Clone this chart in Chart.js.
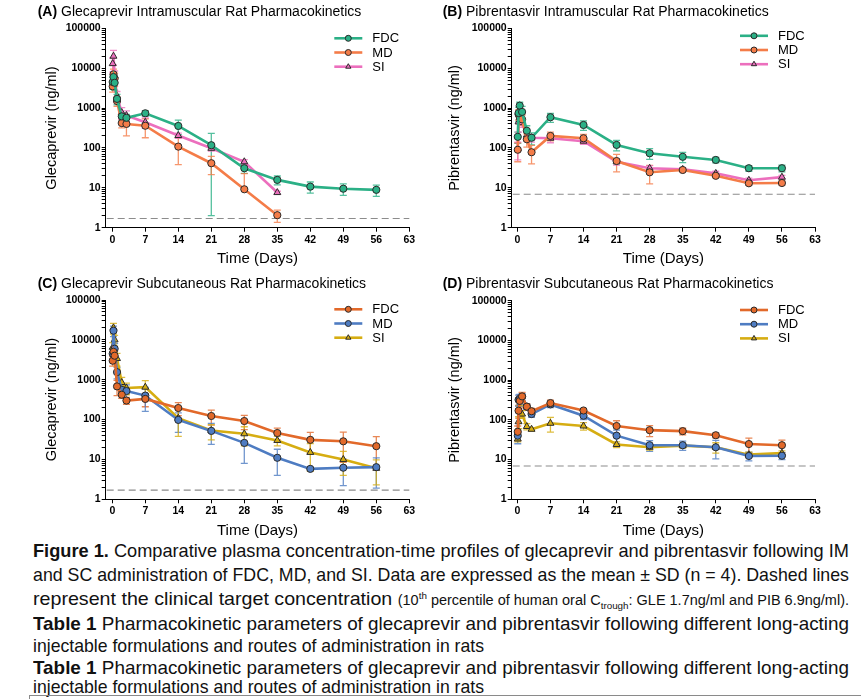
<!DOCTYPE html>
<html>
<head>
<meta charset="utf-8">
<script src="https://cdn.jsdelivr.net/npm/chart.js@4.4.1/dist/chart.umd.min.js"></script>
<style>
  body { margin: 0; background: #fff; width: 861px; height: 699px; overflow: hidden; position: relative; }
  canvas { position: absolute; }
  .cap { position: absolute; left: 33px; white-space: nowrap; line-height: 1;
         font-family: "Liberation Sans Narrow", "Arial Narrow", "Liberation Sans", Arial, sans-serif;
         font-size: 19px; color: #111; transform-origin: 0 0; }
  .cap small { font-size: 14px; }
  .cap sup, .cap sub { font-size: 9.5px; line-height: 0; }
  #tbl { position: absolute; left: 29px; top: 695px; width: 840px; height: 10px;
         border-top: 1px solid #8a8a8a; border-left: 1px solid #8a8a8a; }
</style>
</head>
<body>
<canvas id="cA" width="430" height="270" style="left:0;top:0"></canvas>
<canvas id="cB" width="431" height="270" style="left:430px;top:0"></canvas>
<canvas id="cC" width="430" height="270" style="left:0;top:270px"></canvas>
<canvas id="cD" width="431" height="270" style="left:430px;top:270px"></canvas>

<div class="cap" data-w="816" style="top:541px"><b>Figure 1.</b> Comparative plasma concentration-time profiles of glecaprevir and pibrentasvir following IM</div>
<div class="cap" data-w="816" style="top:565px">and SC administration of FDC, MD, and SI. Data are expressed as the mean ± SD (n = 4). Dashed lines</div>
<div class="cap" data-w="816" style="top:589px">represent the clinical target concentration <small>(10<sup>th</sup> percentile of human oral C<sub>trough</sub>: GLE 1.7ng/ml and PIB 6.9ng/ml).</small></div>
<div class="cap" data-w="816" style="top:614px"><b>Table 1</b> Pharmacokinetic parameters of glecaprevir and pibrentasvir following different long-acting</div>
<div class="cap" data-w="451" style="top:636px">injectable formulations and routes of administration in rats</div>
<div class="cap" data-w="816" style="top:658px"><b>Table 1</b> Pharmacokinetic parameters of glecaprevir and pibrentasvir following different long-acting</div>
<div class="cap" data-w="451" style="top:677px">injectable formulations and routes of administration in rats</div>
<div id="tbl"></div>

<script>
// sampling times (days) and axis ticks
const days = [0.083, 0.25, 0.5, 1, 2, 3, 7, 14, 21, 28, 35, 42, 49, 56];
const dayTicks = [0, 7, 14, 21, 28, 35, 42, 49, 56, 63];
const concTicks = [1, 10, 100, 1000, 10000, 100000];
const groups = ['FDC', 'MD', 'SI'];

// (A) glecaprevir IM
const fdcA = [4500, 6000, 4300, 1700, 620, 570, 740, 356, 117, 31, 15.8, 10.7, 9.5, 8.9];
const fdcA_sd = [1500, 2000, 1500, 500, 150, 120, 120, 140, 115, 8, 4, 3.3, 3, 2.8];
const mdA = [3500, 7000, 5500, 1500, 420, 400, 360, 108, 41.4, 9.2, 2.06];
const mdA_sd = [1000, 2500, 2000, 400, 100, 200, 180, 70, 20, 13.5, 0.7];
const siA = [13000, 20000, 6500, 2000, 770, 650, 440, 205, 98, 45, 7.6];
const siA_sd = [5000, 8000, 2000, 600, 250, 200, 130, 30, 15, 6, 0.6];

// (B) pibrentasvir IM
const fdcB = [190, 750, 1150, 800, 270, 180, 590, 377, 119, 73.6, 60, 50, 31, 31];
const fdcB_sd = [60, 300, 250, 300, 90, 60, 150, 100, 35, 22, 17, 8, 5, 6];
const mdB = [90, 700, 600, 520, 165, 78, 200, 175, 47, 24.5, 28, 20, 13, 13.2];
const mdB_sd = [45, 200, 200, 150, 60, 38, 50, 45, 22, 12, 3, 2, 1.5, 1.5];
const siB = [95, 450, 580, 430, 210, 180, 175, 148, 45, 31, 29, 23, 15.5, 18.5];
const siB_sd = [45, 200, 150, 100, 60, 40, 40, 25, 8, 5, 3, 3, 2, 2];

// (C) glecaprevir SC
const fdcC = [3000, 5000, 4000, 680, 420, 300, 330, 195, 123, 92, 46, 31, 28.5, 21.5];
const fdcC_sd = [800, 1500, 1200, 280, 80, 60, 120, 70, 50, 36, 15, 17, 20, 16];
const mdC = [4500, 17000, 6000, 1550, 560, 520, 400, 98, 52, 26, 11, 5.8, 6.2, 6.4];
const mdC_sd = [1500, 5000, 2000, 500, 150, 220, 240, 50, 28, 18, 7, 0.5, 4, 4.5];
const siC = [6500, 20000, 10000, 3400, 850, 620, 650, 108, 53, 44, 30, 15, 10, 6];
const siC_sd = [2000, 6000, 3000, 1200, 300, 200, 300, 70, 22, 22, 8, 10, 6, 3.7];

// (D) pibrentasvir SC
const fdcD = [50, 170, 300, 390, 215, 165, 265, 172, 70, 55, 52, 41, 24.6, 23];
const fdcD_sd = [20, 60, 100, 100, 40, 30, 50, 20, 25, 17, 10, 6, 10, 8];
const mdD = [40, 320, 340, 380, 215, 140, 245, 127, 40, 23, 23, 20.4, 12.3, 12.5];
const mdD_sd = [15, 100, 100, 80, 30, 25, 40, 25, 15, 7, 6, 10, 3, 2.5];
const siD = [33, 90, 170, 140, 68, 58, 82, 70, 24, 20.4, 22.5, 20.5, 13.3, 14.5];
const siD_sd = [5, 30, 60, 30, 12, 6, 33, 15, 4, 3, 3, 6, 2, 2];

// clinical targets (ng/ml)
const targetGLE = 1.7;
const targetPIB = 6.9;

const imColors = ['#2bb086', '#f47c48', '#ec6fbd'];
const scColors = ['#e2692a', '#4e7cc2', '#d6ad12'];
const FONT = '"Liberation Sans", Arial, sans-serif';

// log axis: every 1..9 x 10^n
const logTicks = [];
concTicks.forEach((d, i) => {
  if (i === concTicks.length - 1) { logTicks.push(d); return; }
  for (let k = 1; k <= 9; k++) logTicks.push(d * k);
});

function series(label, vals, sd, color, shape) {
  return {
    label: label,
    data: vals.map((v, i) => ({ x: days[i], y: v })),
    sd: sd,
    borderColor: color,
    backgroundColor: color,
    pointBackgroundColor: color,
    pointBorderColor: '#2a2a2a',
    pointBorderWidth: 1,
    pointStyle: shape,
    pointRadius: shape === 'triangle' ? 4 : 3.6,
    borderWidth: 2.6,
    tension: 0
  };
}

// error bars (mean ± SD)
const errorBars = {
  id: 'errorBars',
  beforeDatasetsDraw(chart) {
    const ctx = chart.ctx, y = chart.scales.y;
    chart.data.datasets.forEach((ds, di) => {
      const meta = chart.getDatasetMeta(di);
      ctx.save();
      ctx.strokeStyle = ds.borderColor;
      ctx.globalAlpha = 0.8;
      ctx.lineWidth = 1.3;
      meta.data.forEach((pt, i) => {
        const sd = ds.sd[i];
        if (!sd) return;
        const v = ds.data[i].y;
        const top = y.getPixelForValue(v + sd);
        const bot = v - sd > 0 ? y.getPixelForValue(v - sd) : null;
        ctx.beginPath();
        ctx.moveTo(pt.x, top);
        ctx.lineTo(pt.x, bot === null ? pt.y : bot);
        ctx.moveTo(pt.x - 3.5, top); ctx.lineTo(pt.x + 3.5, top);
        if (bot !== null) { ctx.moveTo(pt.x - 3.5, bot); ctx.lineTo(pt.x + 3.5, bot); }
        ctx.stroke();
      });
      ctx.restore();
    });
  }
};

// titles, dashed target line, legend
const decor = {
  id: 'decor',
  beforeDatasetsDraw(chart) {
    const o = chart.options.plugins.decor, ctx = chart.ctx, a = chart.chartArea;
    const yy = chart.scales.y.getPixelForValue(o.target);
    ctx.save();
    ctx.strokeStyle = '#8c8c8c';
    ctx.lineWidth = 1.2;
    ctx.setLineDash([7, 4]);
    ctx.beginPath();
    ctx.moveTo(a.left + 1, yy);
    ctx.lineTo(a.right, yy);
    ctx.stroke();
    ctx.restore();
  },
  afterDraw(chart) {
    const o = chart.options.plugins.decor, ctx = chart.ctx, a = chart.chartArea;
    ctx.save();
    ctx.fillStyle = '#000';
    ctx.textBaseline = 'middle';
    // panel title
    ctx.font = 'bold 14px ' + FONT;
    ctx.fillText(o.tag, o.titleX, o.titleY);
    const w = ctx.measureText(o.tag + ' ').width;
    ctx.font = '14px ' + FONT;
    ctx.fillText(o.title, o.titleX + w, o.titleY);
    // x title
    ctx.font = '15px ' + FONT;
    ctx.textAlign = 'center';
    ctx.fillText('Time (Days)', (a.left + a.right) / 2, a.bottom + 31.5);
    // y title
    ctx.save();
    ctx.translate(o.yTitleX, (a.top + a.bottom) / 2);
    ctx.rotate(-Math.PI / 2);
    ctx.font = '14.5px ' + FONT;
    ctx.fillText(o.yTitle, 0, 0);
    ctx.restore();
    // legend
    ctx.textAlign = 'left';
    ctx.font = '13px ' + FONT;
    chart.data.datasets.forEach((ds, i) => {
      const ly = a.top + o.legTop + i * 14.2;
      const lx = a.right - 75;
      ctx.strokeStyle = ds.borderColor;
      ctx.lineWidth = 2.6;
      ctx.beginPath();
      ctx.moveTo(lx, ly);
      ctx.lineTo(lx + 28, ly);
      ctx.stroke();
      ctx.fillStyle = ds.borderColor;
      ctx.strokeStyle = '#2a2a2a';
      ctx.lineWidth = 1;
      Chart.helpers.drawPoint(ctx, { pointStyle: ds.pointStyle, radius: 3, borderWidth: 1, rotation: 0 }, lx + 14, ly);
      ctx.fillStyle = '#000';
      ctx.fillText(ds.label, lx + 38, ly + 0.5);
    });
    ctx.restore();
  }
};

function makeChart(id, sets, colors, o) {
  const el = document.getElementById(id);
  const W = el.width, H = el.height;
  const shapes = ['circle', 'circle', 'triangle'];
  const tickFont = { family: FONT, size: 10.5, weight: 'bold' };
  new Chart(el, {
    type: 'line',
    data: {
      datasets: sets.map((s, i) => series(groups[i], s[0], s[1], colors[i], shapes[i]))
    },
    options: {
      responsive: false,
      animation: false,
      layout: { padding: { left: 0, top: o.top, right: W - o.right, bottom: 0 } },
      plugins: {
        legend: { display: false },
        tooltip: { enabled: false },
        decor: o
      },
      scales: {
        x: {
          type: 'linear', min: o.xMin, max: 63,
          afterBuildTicks: s => { s.ticks = dayTicks.map(v => ({ value: v })); },
          afterFit: s => { s.height = H - o.bottom; },
          grid: { drawOnChartArea: false, drawTicks: true, tickLength: 4, color: '#000' },
          border: { display: true, color: '#000', width: 1 },
          ticks: { autoSkip: false, maxRotation: 0, padding: 2, color: '#000', font: tickFont }
        },
        y: {
          type: 'logarithmic', min: 1, max: 100000,
          afterBuildTicks: s => { s.ticks = logTicks.map(v => ({ value: v })); },
          afterFit: s => { s.width = o.left; },
          grid: { drawOnChartArea: false, drawTicks: true, tickLength: 4, color: '#000' },
          border: { display: true, color: '#000', width: 1 },
          ticks: {
            autoSkip: false, padding: 1, color: '#000', font: tickFont,
            callback: v => concTicks.includes(v) ? String(v) : ''
          }
        }
      }
    },
    plugins: [errorBars, decor]
  });
}

makeChart('cA', [[fdcA, fdcA_sd], [mdA, mdA_sd], [siA, siA_sd]], imColors, {
  tag: '(A)', title: 'Glecaprevir Intramuscular Rat Pharmacokinetics', yTitle: 'Glecaprevir (ng/ml)',
  target: targetGLE, left: 105.7, right: 409.3, top: 28.3, bottom: 227.7, xMin: -1.4,
  titleX: 37.7, titleY: 12.5, yTitleX: 51.7, legTop: 10
});
makeChart('cB', [[fdcB, fdcB_sd], [mdB, mdB_sd], [siB, siB_sd]], imColors, {
  tag: '(B)', title: 'Pibrentasvir Intramuscular Rat Pharmacokinetics', yTitle: 'Pibrentasvir (ng/ml)',
  target: targetPIB, left: 81.7, right: 385, top: 28.3, bottom: 227.7, xMin: -1.2,
  titleX: 12.7, titleY: 12.5, yTitleX: 25, legTop: 7.5
});
makeChart('cC', [[fdcC, fdcC_sd], [mdC, mdC_sd], [siC, siC_sd]], scColors, {
  tag: '(C)', title: 'Glecaprevir Subcutaneous Rat Pharmacokinetics', yTitle: 'Glecaprevir (ng/ml)',
  target: targetGLE, left: 105.7, right: 409.3, top: 30, bottom: 229.3, xMin: -1.4,
  titleX: 37.7, titleY: 14, yTitleX: 51.7, legTop: 9.3
});
makeChart('cD', [[fdcD, fdcD_sd], [mdD, mdD_sd], [siD, siD_sd]], scColors, {
  tag: '(D)', title: 'Pibrentasvir Subcutaneous Rat Pharmacokinetics', yTitle: 'Pibrentasvir (ng/ml)',
  target: targetPIB, left: 81.7, right: 385, top: 30.7, bottom: 229.3, xMin: -1.2,
  titleX: 12.7, titleY: 14, yTitleX: 25, legTop: 9.3
});

// squeeze caption lines to their printed widths (the original face is a narrow one)
document.querySelectorAll('.cap').forEach(el => {
  const target = +el.dataset.w;
  const w = el.getBoundingClientRect().width;
  el.style.transform = 'scaleX(' + (target / w) + ')';
});
</script>
</body>
</html>
